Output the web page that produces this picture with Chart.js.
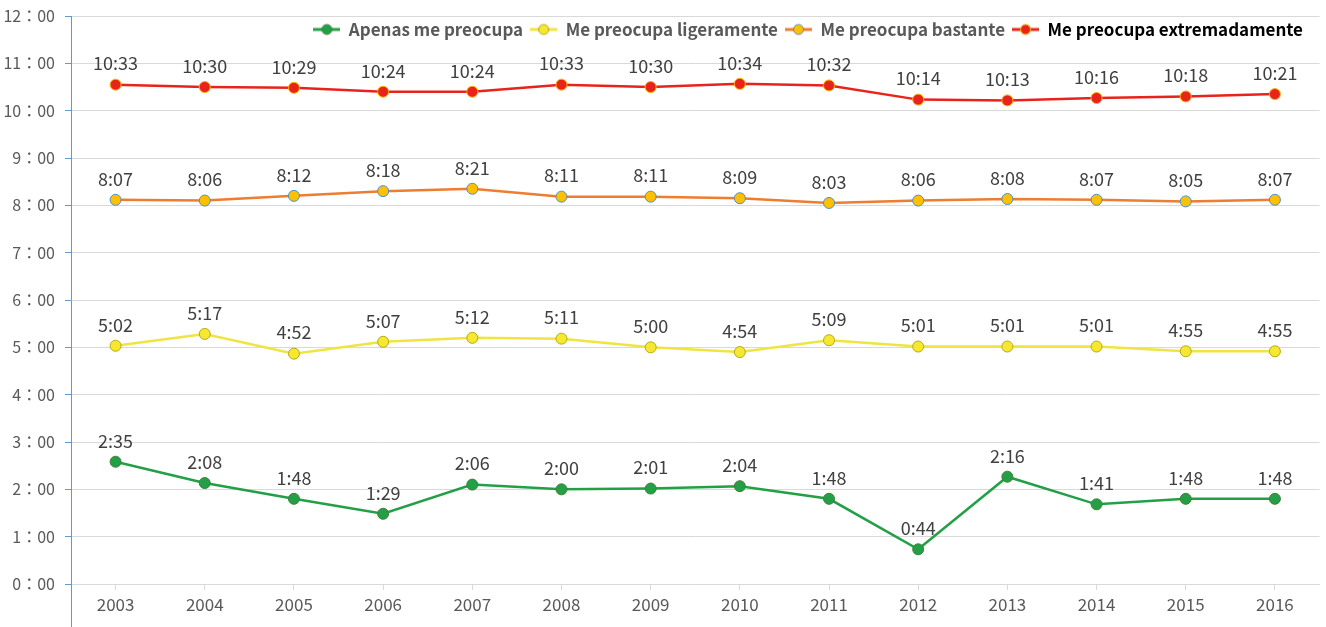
<!DOCTYPE html>
<html>
<head>
<meta charset="utf-8">
<script src="https://cdn.jsdelivr.net/npm/chart.js@4.4.1/dist/chart.umd.min.js"></script>
<style>
  html, body { margin: 0; padding: 0; background: #fff; }
  #wrap { width: 1326px; height: 627px; }
</style>
</head>
<body>
<div id="wrap"><canvas id="chart"></canvas></div>
<script>
// datos (h:mm)
var years = ['2003','2004','2005','2006','2007','2008','2009','2010','2011','2012','2013','2014','2015','2016'];
var apenas = ['2:35','2:08','1:48','1:29','2:06','2:00','2:01','2:04','1:48','0:44','2:16','1:41','1:48','1:48'];
var ligeramente = ['5:02','5:17','4:52','5:07','5:12','5:11','5:00','4:54','5:09','5:01','5:01','5:01','4:55','4:55'];
var bastante = ['8:07','8:06','8:12','8:18','8:21','8:11','8:11','8:09','8:03','8:06','8:08','8:07','8:05','8:07'];
var extremadamente = ['10:33','10:30','10:29','10:24','10:24','10:33','10:30','10:34','10:32','10:14','10:13','10:16','10:18','10:21'];
var yTicks = ['0：00','1：00','2：00','3：00','4：00','5：00','6：00','7：00','8：00','9：00','10：00','11：00','12：00'];

function toHours(s) {
  var p = s.split(':');
  return Number(p[0]) + Number(p[1]) / 60;
}

// icono de leyenda: linea + circulo
function legendIcon(line, fill, border) {
  var c = document.createElement('canvas');
  c.width = 27; c.height = 14;
  var g = c.getContext('2d');
  g.strokeStyle = line; g.lineWidth = 3;
  g.beginPath(); g.moveTo(0, 7); g.lineTo(27, 7); g.stroke();
  g.fillStyle = fill; g.strokeStyle = border; g.lineWidth = 1;
  g.beginPath(); g.arc(13.5, 7, 5, 0, Math.PI * 2); g.fill(); g.stroke();
  return c;
}

function serie(label, values, line, fill, border, textColor) {
  return {
    label: label,
    data: values.map(toHours),
    labelsText: values,
    borderColor: line,
    backgroundColor: fill,
    pointBackgroundColor: fill,
    pointBorderColor: border,
    pointBorderWidth: 1,
    pointRadius: 5.5,
    borderWidth: 2.5,
    tension: 0,
    icon: legendIcon(line, fill, border),
    legendColor: textColor
  };
}

// etiquetas sobre los puntos
var valueLabels = {
  id: 'valueLabels',
  afterDatasetsDraw: function(chart) {
    var ctx = chart.ctx;
    ctx.save();
    ctx.font = '18px "Noto Sans CJK JP", "Noto Sans", sans-serif';
    ctx.fillStyle = '#404040';
    ctx.textAlign = 'center';
    ctx.textBaseline = 'middle';
    chart.data.datasets.forEach(function(ds, i) {
      chart.getDatasetMeta(i).data.forEach(function(pt, j) {
        ctx.fillText(ds.labelsText[j], pt.x, pt.y - 21);
      });
    });
    ctx.restore();
  }
};

// leyenda dentro del area del grafico, arriba a la derecha
var legendInside = {
  id: 'legendInside',
  beforeLayout: function(chart) {
    var lg = chart.legend;
    if (lg && !lg.insidePatched) {
      var fit = lg.fit;
      lg.fit = function() { fit.call(this); this.height = 0; };
      lg.insidePatched = true;
    }
  },
  afterLayout: function(chart) {
    var lg = chart.legend;
    if (!lg) return;
    lg.top = 14;
    lg.bottom = 48;
    lg.height = 34;
    lg.right = 1310;
  }
};

// eje Y azul hasta abajo
var axisExtend = {
  id: 'axisExtend',
  afterDraw: function(chart) {
    var ctx = chart.ctx, a = chart.chartArea;
    ctx.save();
    ctx.strokeStyle = '#5b9bd5';
    ctx.lineWidth = 1;
    ctx.beginPath();
    ctx.moveTo(Math.round(a.left) + 0.5, a.bottom);
    ctx.lineTo(Math.round(a.left) + 0.5, chart.height);
    ctx.stroke();
    ctx.restore();
  }
};

new Chart(document.getElementById('chart'), {
  type: 'line',
  data: {
    labels: years,
    datasets: [
      serie('Apenas me preocupa', apenas, '#23a047', '#23a047', '#3f7f35', '#595959'),
      serie('Me preocupa ligeramente', ligeramente, '#f0e442', '#f5e82f', '#b8a818', '#595959'),
      serie('Me preocupa bastante', bastante, '#ed7d31', '#ffc000', '#4a8fd0', '#595959'),
      serie('Me preocupa extremadamente', extremadamente, '#e8231c', '#e8231c', '#ffb000', '#000000')
    ]
  },
  options: {
    responsive: true,
    maintainAspectRatio: false,
    animation: false,
    layout: { padding: { top: 16, right: 4, bottom: 0, left: 0 } },
    plugins: {
      tooltip: { enabled: false },
      legend: {
        position: 'top',
        align: 'end',
        labels: {
          usePointStyle: true,
          pointStyleWidth: 27,
          padding: 7,
          font: { family: '"Noto Sans CJK JP", "Noto Sans", sans-serif', size: 17, weight: 'bold' },
          generateLabels: function(chart) {
            return chart.data.datasets.map(function(ds, i) {
              return {
                text: ds.label,
                pointStyle: ds.icon,
                fontColor: ds.legendColor,
                strokeStyle: 'transparent',
                fillStyle: 'transparent',
                lineWidth: 0,
                datasetIndex: i
              };
            });
          }
        }
      }
    },
    scales: {
      x: {
        offset: true,
        grid: { display: true, drawOnChartArea: false, offset: false, tickLength: 6, color: '#d9d9d9' },
        border: { color: '#d9d9d9' },
        ticks: {
          color: '#595959',
          padding: 4,
          font: { family: '"Noto Sans CJK JP", "Noto Sans", sans-serif', size: 17 }
        },
        afterFit: function(scale) { scale.height = 43; }
      },
      y: {
        min: 0,
        max: 12,
        ticks: {
          stepSize: 1,
          color: '#595959',
          padding: 10,
          font: { family: '"Noto Sans CJK JP", "Noto Sans", sans-serif', size: 16 },
          callback: function(v) { return yTicks[v]; }
        },
        grid: { color: '#d9d9d9', tickColor: '#5b9bd5', tickLength: 6 },
        border: { color: '#5b9bd5' },
        afterFit: function(scale) {
          scale.width = 71;
          scale.paddingTop = 0;
          scale.paddingBottom = 0;
        }
      }
    }
  },
  plugins: [valueLabels, legendInside, axisExtend]
});
</script>
</body>
</html>
